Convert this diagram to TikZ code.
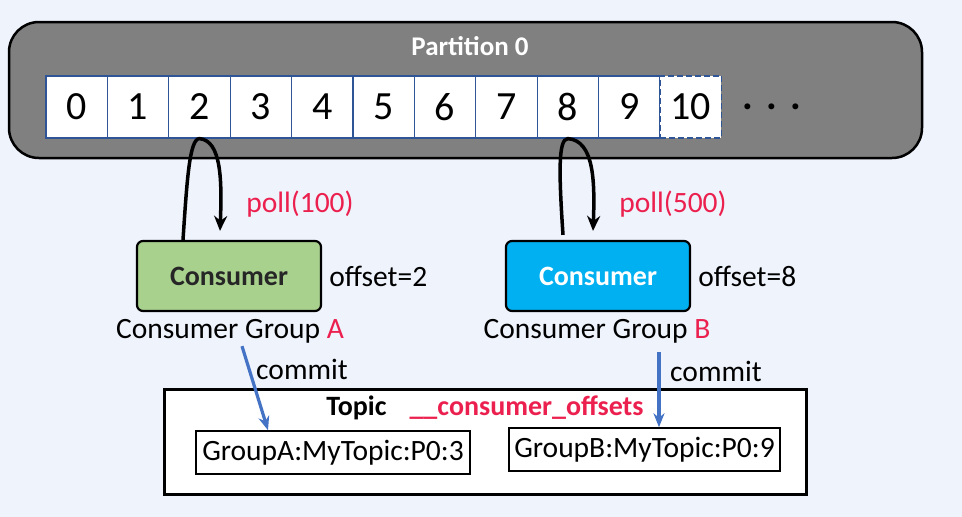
\documentclass[tikz,border=0pt]{standalone}
\usepackage{fontspec}
\setmainfont{Carlito}
\usepackage{tikz}
\usetikzlibrary{arrows.meta, positioning, calc}
\usepackage{xcolor}
\definecolor{pagebg}{RGB}{239,243,252}
\definecolor{partgray}{RGB}{128,128,128}
\definecolor{cellblue}{RGB}{47,85,151}
\definecolor{consgreen}{RGB}{169,209,142}
\definecolor{consblue}{RGB}{0,176,240}
\definecolor{pollred}{RGB}{236,32,78}
\definecolor{commitblue}{RGB}{68,114,196}

\begin{document}
\begin{tikzpicture}[
  x=1pt, y=-1pt,
  txt/.style={font=\fontsize{29.5}{33}\selectfont, inner sep=0pt},
  cell/.style={draw=cellblue, line width=1.2pt, fill=white,
               minimum width=61.4pt, minimum height=62pt, inner sep=0pt,
               font=\fontsize{40}{42}\selectfont},
  consumer/.style={draw=black, line width=2.2pt, rounded corners=6pt,
                   minimum width=184pt, minimum height=70pt,
                   font=\fontsize{28}{32}\selectfont\bfseries},
  entry/.style={draw=black, line width=1.5pt, fill=white, minimum height=43pt,
                inner sep=0pt, font=\fontsize{29.5}{33}\selectfont},
  pollarrow/.style={-{Stealth[length=15pt, width=13pt]}, line width=3.5pt},
  commitarrow/.style={-{Stealth[length=14pt, width=11pt]}, commitblue, line width=3.2pt}
]
\fill[pagebg] (0,0) rectangle (962,517);
\useasboundingbox (0,0) rectangle (962,517);

% partition with its offsets
\node[draw=black, line width=2.5pt, fill=partgray, rounded corners=30pt,
      minimum width=913pt, minimum height=136pt] (part) at (465.5,90) {};
\node[txt, text=white, font=\fontsize{27}{30}\selectfont\bfseries] (ptitle) at (470,46) {Partition 0};
\foreach \i in {0,...,9}
  \node[cell] (c\i) at ({46+61.4*(\i+0.5)},107) {\i};
\node[cell, line width=1.8pt, dash pattern=on 6pt off 3pt] (c10) at ({46+61.4*10.5},107) {10};
\node[txt, font=\fontsize{40}{42}\selectfont\bfseries, right=20pt of c10] (more) {.\,\,.\,\,.};

% consumers
\node[consumer, fill=consgreen, text=black!85] (consA) at (229,276) {Consumer};
\node[consumer, fill=consblue, text=white] (consB) at (598,276) {Consumer};
\node[txt, right=7pt of consA] (offA) {offset=2};
\node[txt, right=7pt of consB] (offB) {offset=8};
\node[txt] (grpA) at (230,331) {Consumer Group \textcolor{pollred}{A}};
\node[txt] (grpB) at (597,331) {Consumer Group \textcolor{pollred}{B}};

% polling
\node[txt, text=pollred] (pollA) at (300,204) {poll(100)};
\node[txt, text=pollred] (pollB) at (673,204) {poll(500)};
\draw[pollarrow] ($(consA.north)+(-46,0)$) .. controls +(4,-60) and +(-10,0) .. (c2.south)
  .. controls +(22,2) and +(2,-50) .. ($(consA.north)+(-9,-9)$);
\draw[pollarrow] ($(consB.north)+(-35,-5)$) .. controls +(-4,-60) and +(-10,0) .. (c8.south)
  .. controls +(26,2) and +(2,-50) .. ($(consB.north)+(-5,-9)$);

% offsets topic
\node[draw=black, line width=3pt, fill=white, minimum width=642pt,
      minimum height=105pt] (topic) at (485,441.5) {};
\node[txt, font=\fontsize{28}{32}\selectfont\bfseries] (ttitle) at (485,408)
  {Topic\hspace{23pt}\textcolor{pollred}{\_\_consumer\_offsets}};
\node[entry, minimum width=274pt] (entA) at (333,452.5) {GroupA:MyTopic:P0:3};
\node[entry, minimum width=271pt] (entB) at (644.5,449.5) {GroupB:MyTopic:P0:9};

% commits
\draw[commitarrow] ($(grpA.south)+(12,3)$) -- ($(entA.north)+(-65,0)$);
\draw[commitarrow] ($(grpB.south)+(62,9)$) -- ($(entB.north)+(14.5,0)$);
\node[txt] (cmA) at (302,369) {commit};
\node[txt] (cmB) at (716,371) {commit};
\end{tikzpicture}
\end{document}
